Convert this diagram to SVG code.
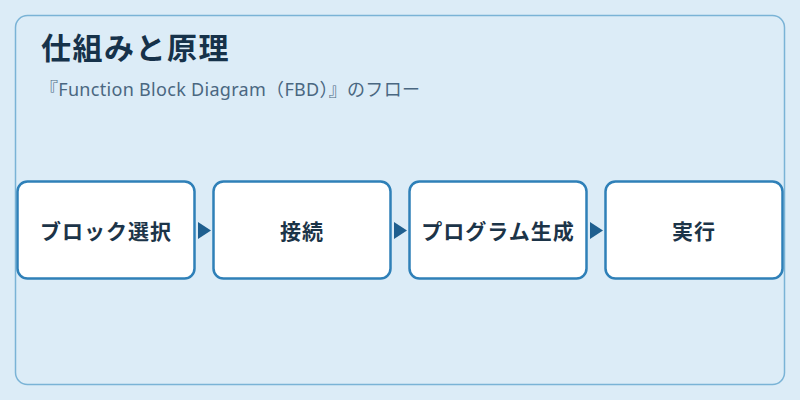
<svg xmlns="http://www.w3.org/2000/svg" width="800" height="400" viewBox="0 0 800 400">
<defs>
<style>
.node rect{fill:#ffffff;stroke:#2f80b8;stroke-width:2.5}
.node text{font-family:"Noto Sans CJK JP","Noto Sans",sans-serif;font-size:21px;font-weight:700;fill:#1c3448;text-anchor:middle;letter-spacing:1px}
.title{font-family:"Noto Sans CJK JP","Noto Sans",sans-serif;font-size:30px;font-weight:700;fill:#16324a;letter-spacing:1.5px}
.sub{font-family:"Noto Sans","Noto Sans CJK JP",sans-serif;font-size:18px;fill:#4a6781;letter-spacing:0.3px}
.arrow{fill:#1f5f8f}
</style>
</defs>
<rect x="0" y="0" width="800" height="400" fill="#dcecf7"/>
<rect x="15.5" y="15.5" width="769" height="369" rx="12" fill="#dcecf7" stroke="#7ab3d6" stroke-width="1.5"/>
<text class="title" x="41" y="59">仕組みと原理</text>
<text class="sub" x="40" y="96">『Function Block Diagram（FBD）』のフロー</text>
<g id="connectors">
<polygon class="arrow" points="198,222 211,230.5 198,239"/>
<polygon class="arrow" points="394,222 407,230.5 394,239"/>
<polygon class="arrow" points="590,222 603,230.5 590,239"/>
</g>
<g id="node1" class="node">
<rect x="17.5" y="181.5" width="177" height="97" rx="10"/>
<text x="106" y="239">ブロック選択</text>
</g>
<g id="node2" class="node">
<rect x="213.5" y="181.5" width="177" height="97" rx="10"/>
<text x="302" y="239">接続</text>
</g>
<g id="node3" class="node">
<rect x="409.5" y="181.5" width="177" height="97" rx="10"/>
<text x="498" y="239">プログラム生成</text>
</g>
<g id="node4" class="node">
<rect x="605.5" y="181.5" width="177" height="97" rx="10"/>
<text x="694" y="239">実行</text>
</g>
</svg>
